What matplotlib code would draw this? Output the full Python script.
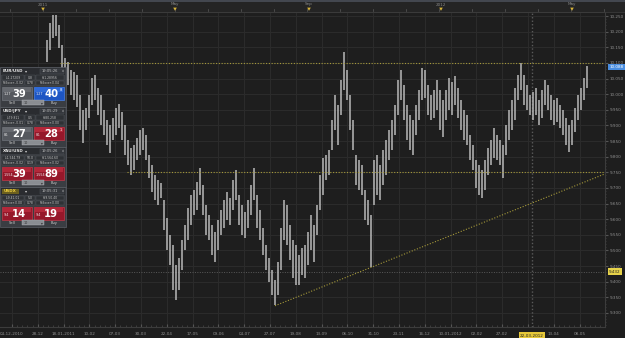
import matplotlib
matplotlib.use("Agg")
import matplotlib.pyplot as plt
from matplotlib.patches import Rectangle, Polygon
from matplotlib.lines import Line2D
import numpy as np

W, H = 625, 338

# ---------------- data ----------------
highs = [10.173, 10.227, 10.253, 10.253, 10.221, 10.157, 10.115, 10.103, 10.077, 10.071,
         10.061, 9.997, 9.949, 9.955, 9.997, 10.051, 10.061, 10.019, 9.997, 9.949,
         9.917, 9.901, 9.923, 9.955, 9.968, 9.943, 9.901, 9.853, 9.827, 9.837,
         9.859, 9.885, 9.891, 9.869, 9.805, 9.773, 9.741, 9.725, 9.715, 9.661,
         9.603, 9.549, 9.517, 9.453, 9.475, 9.533, 9.581, 9.635, 9.677, 9.693,
         9.719, 9.763, 9.709, 9.645, 9.613, 9.581, 9.559, 9.597, 9.629, 9.661,
         9.687, 9.667, 9.725, 9.757, 9.677, 9.645, 9.623, 9.661, 9.709, 9.763,
         9.677, 9.629, 9.571, 9.517, 9.475, 9.437, 9.405, 9.463, 9.571, 9.661,
         9.645, 9.581, 9.533, 9.517, 9.485, 9.507, 9.517, 9.559, 9.613, 9.581,
         9.645, 9.741, 9.795, 9.805, 9.821, 9.917, 9.997, 9.965, 10.045, 10.135,
         10.077, 9.997, 9.917, 9.805, 9.789, 9.773, 9.693, 9.661, 9.613, 9.789,
         9.805, 9.773, 9.821, 9.853, 9.885, 9.917, 9.965, 10.045, 10.077, 10.029,
         9.965, 9.933, 9.917, 9.965, 10.013, 10.083, 10.077, 10.029, 9.997, 10.013,
         10.045, 10.013, 9.981, 10.013, 10.051, 10.039, 10.058, 10.019, 9.981, 9.949,
         9.933, 9.869, 9.837, 9.789, 9.773, 9.757, 9.789, 9.827, 9.853, 9.891,
         9.869, 9.853, 9.837, 9.901, 9.949, 9.981, 10.019, 10.061, 10.099, 10.061,
         10.029, 9.997, 10.007, 10.019, 9.981, 10.013, 10.045, 10.029, 9.997, 9.981,
         9.987, 9.965, 9.949, 9.923, 9.901, 9.917, 9.955, 9.997, 10.019, 10.051,
         10.090]
lows = [10.103, 10.141, 10.179, 10.186, 10.147, 10.083, 10.061, 10.029, 9.997, 9.981,
        9.959, 9.885, 9.843, 9.885, 9.923, 9.965, 9.981, 9.933, 9.901, 9.869,
        9.837, 9.811, 9.853, 9.869, 9.891, 9.853, 9.805, 9.773, 9.741, 9.757,
        9.789, 9.805, 9.821, 9.789, 9.731, 9.687, 9.661, 9.645, 9.667, 9.565,
        9.501, 9.453, 9.373, 9.341, 9.373, 9.437, 9.501, 9.533, 9.581, 9.613,
        9.629, 9.677, 9.613, 9.549, 9.533, 9.485, 9.463, 9.501, 9.549, 9.571,
        9.597, 9.581, 9.629, 9.661, 9.581, 9.549, 9.539, 9.571, 9.613, 9.661,
        9.571, 9.533, 9.485, 9.437, 9.399, 9.357, 9.325, 9.357, 9.437, 9.533,
        9.517, 9.469, 9.411, 9.389, 9.389, 9.421, 9.411, 9.453, 9.501, 9.463,
        9.549, 9.629, 9.677, 9.725, 9.741, 9.821, 9.885, 9.837, 9.933, 10.013,
        9.981, 9.885, 9.821, 9.709, 9.693, 9.677, 9.597, 9.581, 9.447, 9.645,
        9.677, 9.661, 9.709, 9.741, 9.789, 9.821, 9.869, 9.933, 9.981, 9.917,
        9.853, 9.821, 9.805, 9.869, 9.917, 9.981, 9.987, 9.933, 9.917, 9.923,
        9.949, 9.885, 9.863, 9.917, 9.949, 9.933, 9.965, 9.923, 9.885, 9.853,
        9.837, 9.789, 9.757, 9.699, 9.677, 9.667, 9.693, 9.741, 9.773, 9.795,
        9.789, 9.773, 9.731, 9.805, 9.853, 9.885, 9.917, 9.981, 10.013, 9.965,
        9.949, 9.933, 9.917, 9.933, 9.901, 9.923, 9.965, 9.949, 9.917, 9.901,
        9.911, 9.891, 9.869, 9.837, 9.815, 9.837, 9.879, 9.917, 9.949, 9.981,
        10.019]

price_ticks = [9.30, 9.35, 9.40, 9.45, 9.50, 9.55, 9.60, 9.65, 9.70, 9.75, 9.80,
               9.85, 9.90, 9.95, 10.00, 10.05, 10.10, 10.15, 10.20, 10.25]
price_tick_labels = ["9.300", "9.350", "9.400", "9.450", "9.500", "9.550", "9.600",
                     "9.650", "9.700", "9.750", "9.800", "9.850", "9.900", "9.950",
                     "10.000", "10.050", "10.100", "10.150", "10.200", "10.250"]
date_labels = ["04-12-2010", "28-12", "18-01-2011", "10-02", "07-03", "30-03", "22-04",
               "17-05", "09-06", "04-07", "27-07", "19-08", "13-09", "06-10", "31-10",
               "23-11", "16-12", "10-01-2012", "02-02", "27-02", "", "13-04", "08-05"]
top_labels = ["2011", "May", "Sep", "2012", "May"]

resistance = 10.10
support = 9.75
trend_start = (76, 9.323)
trend_end = (186, 9.745)
cross_price = 9.432
cross_bar = 161.7
cross_date = "22-03-2012"
last_price = 10.088
last_price_label = "10.088"
cross_price_label = "9.432"

# ---------------- figure ----------------
BG = "#1e1e1e"
fig = plt.figure(figsize=(W / 100, H / 100), dpi=100, facecolor=BG)


def fx(x):
    return x / W


def fy(y):
    return 1 - y / H


def frect(x, y, w, h, fc, ec="none", lw=0.5, z=2):
    r = Rectangle((fx(x), fy(y + h)), w / W, h / H, transform=fig.transFigure,
                  facecolor=fc, edgecolor=ec, linewidth=lw, zorder=z)
    fig.add_artist(r)
    return r


def ftext(x, y, s, size=3, color="#dddddd", ha="left", va="center", weight="normal", z=5):
    fig.text(fx(x), fy(y), s, fontsize=size, color=color, ha=ha, va=va,
             fontweight=weight, zorder=z, family="DejaVu Sans")


ax_left, ax_right, ax_top, ax_bot = 0, 605, 12, 327
ax = fig.add_axes([fx(ax_left), fy(ax_bot), (ax_right - ax_left) / W, (ax_bot - ax_top) / H])
ax.set_facecolor(BG)

idx = np.arange(len(highs))
x0 = -15.67
x1 = 186.0
ax.set_xlim(x0, x1)
ax.set_ylim(9.255, 10.263)

grid_x = [-11.667 + 8.6 * k for k in range(len(date_labels))]
ax.set_xticks(grid_x)
ax.set_xticklabels(date_labels)
ax.set_xticks(np.arange(-11.667, x1, 1.72), minor=True)
ax.set_yticks(price_ticks)
ax.set_yticklabels(price_tick_labels)
ax.set_yticks(np.arange(9.26, 10.26, 0.01), minor=True)
ax.yaxis.tick_right()
ax.grid(True, which="major", color="#2c2c2c", linewidth=0.7)
ax.tick_params(axis="x", which="major", direction="in", length=2.5, colors="#555555",
               labelcolor="#8f8f8f", labelsize=3, pad=3.3)
ax.tick_params(axis="x", which="minor", direction="in", length=1.3, colors="#444444")
ax.tick_params(axis="y", which="major", direction="out", length=2, colors="#555555",
               labelcolor="#8f8f8f", labelsize=3, pad=1.5)
ax.tick_params(axis="y", which="minor", direction="out", length=1, colors="#444444")
ax.spines["left"].set_visible(False)
for s in ["top", "bottom", "right"]:
    ax.spines[s].set_color("#3c3c3c")
    ax.spines[s].set_linewidth(0.8)

# price bars
ax.vlines(idx, lows, highs, color="#b9b9b9", linewidth=1.1, zorder=3)

# level lines
LVL = "#a69a3a"
ax.plot([4.3, x1], [resistance, resistance], color=LVL, linestyle=(0, (1, 1.5)),
        linewidth=0.8, zorder=4)
ax.plot([26.7, x1], [support, support], color=LVL, linestyle=(0, (1, 1.5)),
        linewidth=0.8, zorder=4)
ax.plot([trend_start[0], trend_end[0]], [trend_start[1], trend_end[1]], color=LVL,
        linestyle=(0, (1, 1.5)), linewidth=0.8, zorder=4)

# crosshair
ax.axhline(cross_price, color="#5a5a5a", linestyle=(0, (1, 1.5)), linewidth=0.7, zorder=2)
ax.axvline(cross_bar, color="#5a5a5a", linestyle=(0, (1, 1.5)), linewidth=1.0, zorder=2)

# highlighted labels
ax.annotate(last_price_label, xy=(1.007, last_price), xycoords=("axes fraction", "data"),
            fontsize=3, color="white", va="center", ha="left", annotation_clip=False,
            bbox=dict(boxstyle="square,pad=0.25", fc="#4a8ee0", ec="none"), zorder=10)
ax.annotate(cross_price_label, xy=(1.007, cross_price), xycoords=("axes fraction", "data"),
            fontsize=3, color="#222222", va="center", ha="left", annotation_clip=False,
            bbox=dict(boxstyle="square,pad=0.3", fc="#e6d24a", ec="none"), zorder=10)
ax.annotate(cross_date, xy=(cross_bar, 0), xycoords=("data", "axes fraction"),
            xytext=(0, -6.3), textcoords="offset points",
            fontsize=3, color="#222222", va="center", ha="center", annotation_clip=False,
            bbox=dict(boxstyle="square,pad=0.35", fc="#e6c83a", ec="none"), zorder=10)

# ---------------- top date bar ----------------
frect(0, 0, W, 2, "#43474f", z=1)
frect(0, 2, W, 10, "#242424", z=1)
fig.add_artist(Line2D([0, 1], [fy(11.5), fy(11.5)], transform=fig.transFigure,
                      color="#3a3a3a", linewidth=0.6, zorder=2))
top_pos = [-1.33, 42.67, 87.33, 131.33, 175.0]
for lab, p in zip(top_labels, top_pos):
    xp = ax_left + (p - x0) / (x1 - x0) * (ax_right - ax_left)
    ftext(xp, 4.5, lab, size=3, color="#858585", ha="center")
    fig.add_artist(Polygon([(fx(xp - 1.8), fy(7.6)), (fx(xp + 1.8), fy(7.6)),
                            (fx(xp), fy(10.8))], closed=True, transform=fig.transFigure,
                           facecolor="#d8b43a", edgecolor="none", zorder=3))
for k in range(-1, 18):
    xt = 43 + 33 * k
    if 0 < xt < 605:
        fig.add_artist(Line2D([fx(xt), fx(xt)], [fy(8.5), fy(10.8)], transform=fig.transFigure,
                              color="#5a5a5a", linewidth=0.5, zorder=2))


# ---------------- trading widgets ----------------
def widget(y0, name, time, info1, info2, lbig, rbig, lcol, rcol, lsup="", rsup="",
           yellow_name=False):
    frect(0, y0, 66, 40, "#3a3d42", ec="#5b5f66", lw=0.5, z=6)
    frect(1, y0 + 1, 64, 6.5, "#2a2c30", z=7)
    if yellow_name:
        frect(2, y0 + 1.8, 17, 5, "#6b5f1e", z=7)
        ftext(4, y0 + 4.3, name, size=3.0, color="#f0d040", weight="bold", z=8)
    else:
        ftext(3, y0 + 4.3, name, size=3.0, color="#e6e6e6", weight="bold", z=8)
    ftext(25, y0 + 4.3, "\u25be", size=3, color="#cfcfcf", z=8)
    frect(40, y0 + 1.8, 24, 5, "#34373c", ec="#55585e", lw=0.3, z=7)
    ftext(50, y0 + 4.3, time, size=2.6, color="#c0c0c0", ha="center", z=8)
    ftext(62.5, y0 + 4.3, "x", size=2.4, color="#c0c0c0", ha="center", z=8)
    for r, row in enumerate([info1, info2]):
        yy = y0 + 8.5 + r * 5.2
        for (bx, bw), s in zip([(2, 22), (25, 10), (36, 28)], row):
            frect(bx, yy, bw, 4.6, "#2e3135", ec="#50545a", lw=0.3, z=7)
            ftext(bx + bw / 2, yy + 2.4, s, size=2.2, color="#c8c8c8", ha="center", z=8)
    by = y0 + 19.5
    for bx, col, (small, big), sup in [(2, lcol, lbig, lsup), (34, rcol, rbig, rsup)]:
        frect(bx, by, 30, 13, col[0], ec=col[1], lw=0.5, z=7)
        frect(bx + 0.6, by + 0.6, 28.8, 5, col[2], z=7)
        ftext(bx + 2, by + 8, small, size=2.4, color="#eeeeee", z=8)
        ftext(bx + 17, by + 7.2, big, size=7.2, color="white", ha="center", weight="bold", z=8)
        if sup:
            ftext(bx + 26.5, by + 3.2, sup, size=2.6, color="white", ha="center", z=8)
    ftext(12, y0 + 35.8, "Sell", size=2.6, color="#cfcfcf", ha="center", z=8)
    ftext(54, y0 + 35.8, "Buy", size=2.6, color="#cfcfcf", ha="center", z=8)
    frect(22, y0 + 33.3, 22, 5, "#8a8d92", ec="#b0b3b8", lw=0.3, z=7)
    ftext(24, y0 + 35.8, "10", size=2.4, color="#333333", z=8)
    ftext(41.5, y0 + 35.8, "\u25be", size=2.6, color="#333333", ha="center", z=8)


GREY = ("#55585e", "#6f737a", "#676a70")
RED = ("#96172a", "#c13a4a", "#b3283a")
BLUE = ("#1d55c4", "#4a82e6", "#2f6ad8")

widget(67, "EUR/USD", "19:05:26", ("L:1.27209", "0.8", "H:1.28956"),
       ("Rollover:-0.02", "0.78", "Rollover:0.04"), ("1.27", "39"), ("1.27", "40"),
       GREY, BLUE, lsup="", rsup="8")
widget(107, "USD/JPY", "19:05:29", ("L:79.811", "0.5", "H:80.258"),
       ("Rollover:-0.01", "0.78", "Rollover:0.00"), ("80.", "27"), ("80.", "28"),
       GREY, RED, lsup="", rsup="1")
widget(147, "XAU/USD", "19:05:26", ("L:1,544.79", "50.0", "H:1,564.60"),
       ("Rollover:-0.02", "0.19", "Rollover:0.02"), ("1,554", "39"), ("1,554", "89"),
       RED, RED)
widget(187, "USDX", "19:05:31", ("L:9.41.01", "5.0", "H:9.50.40"),
       ("Rollover:0.00", "0.78", "Rollover:0.00"), ("9.4", "14"), ("9.4", "19"),
       RED, RED, yellow_name=True)

fig.savefig("out.png", dpi=100, facecolor=BG)
